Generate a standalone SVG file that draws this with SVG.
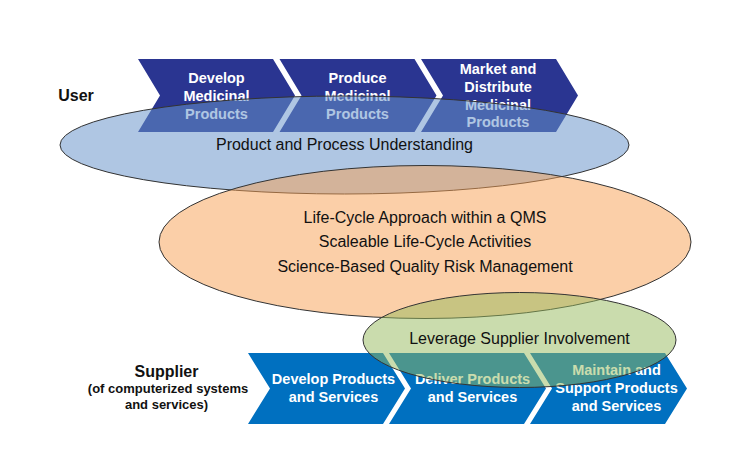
<svg xmlns="http://www.w3.org/2000/svg" width="750" height="450" viewBox="0 0 750 450">
<style>
.chevU{fill:#2A3591;}
.chevS{fill:#0070C0;}
.ct{font-family:"Liberation Sans",Arial,sans-serif;font-weight:bold;font-size:14.5px;fill:#ffffff;text-anchor:middle;}
.lbl{font-family:"Liberation Sans",Arial,sans-serif;fill:#111111;text-anchor:middle;}
.ell{stroke:#333333;stroke-width:1;}
</style>
<rect width="750" height="450" fill="#ffffff"/>
<g id="user-label"><text class="lbl" x="76" y="101" font-size="16" font-weight="bold">User</text></g>
<g id="develop-medicinal">
<path class="chevU" d="M138,59 L273,59 L295,95.5 L273,132 L138,132 L160,95.5 Z"/>
<text class="ct" x="216.5" y="83">Develop</text>
<text class="ct" x="216.5" y="101">Medicinal</text>
<text class="ct" x="216.5" y="118.5">Products</text>
</g>
<g id="produce-medicinal">
<path class="chevU" d="M279.5,59 L414.5,59 L436.5,95.5 L414.5,132 L279.5,132 L301.5,95.5 Z"/>
<text class="ct" x="357.5" y="83">Produce</text>
<text class="ct" x="357.5" y="101">Medicinal</text>
<text class="ct" x="357.5" y="118.5">Products</text>
</g>
<g id="market-distribute">
<path class="chevU" d="M421,59 L556,59 L578,95.5 L556,132 L421,132 L443,95.5 Z"/>
<text class="ct" x="498" y="74">Market and</text>
<text class="ct" x="498" y="92">Distribute</text>
<text class="ct" x="498" y="109.5">Medicinal</text>
<text class="ct" x="498" y="127">Products</text>
</g>
<g id="supplier-label">
<text class="lbl" x="166.5" y="377" font-size="16" font-weight="bold">Supplier</text>
<text class="lbl" x="168" y="393" font-size="13" font-weight="bold">(of computerized systems</text>
<text class="lbl" x="166.5" y="409" font-size="13" font-weight="bold">and services)</text>
</g>
<g id="develop-products">
<path class="chevS" d="M248,353 L383,353 L405,388.5 L383,424 L248,424 L270,388.5 Z"/>
<text class="ct" x="333.5" y="384">Develop Products</text>
<text class="ct" x="333.5" y="402">and Services</text>
</g>
<g id="deliver-products">
<path class="chevS" d="M389,353 L524,353 L546,388.5 L524,424 L389,424 L411,388.5 Z"/>
<text class="ct" x="472.5" y="384">Deliver Products</text>
<text class="ct" x="472.5" y="402">and Services</text>
</g>
<g id="maintain-support">
<path class="chevS" d="M530,353 L665,353 L687,388.5 L665,424 L530,424 L552,388.5 Z"/>
<text class="ct" x="616.5" y="375">Maintain and</text>
<text class="ct" x="616.5" y="393">Support Products</text>
<text class="ct" x="616.5" y="411">and Services</text>
</g>
<g id="product-process-understanding">
<ellipse class="ell" cx="344.5" cy="145" rx="284.5" ry="49" fill="#6893CA" fill-opacity="0.53"/>
<text class="lbl" x="344.5" y="150" font-size="16">Product and Process Understanding</text>
</g>
<g id="life-cycle-approach">
<ellipse class="ell" cx="425" cy="242" rx="266" ry="76.5" fill="#F79F51" fill-opacity="0.5"/>
<text class="lbl" x="425" y="223" font-size="16">Life-Cycle Approach within a QMS</text>
<text class="lbl" x="425" y="247" font-size="16">Scaleable Life-Cycle Activities</text>
<text class="lbl" x="425" y="272" font-size="16">Science-Based Quality Risk Management</text>
</g>
<g id="leverage-supplier">
<ellipse class="ell" cx="519.5" cy="340" rx="156.5" ry="47.5" fill="#96BA5C" fill-opacity="0.5"/>
<text class="lbl" x="519.5" y="344" font-size="16">Leverage Supplier Involvement</text>
</g>
<g id="connectors"></g>
</svg>
